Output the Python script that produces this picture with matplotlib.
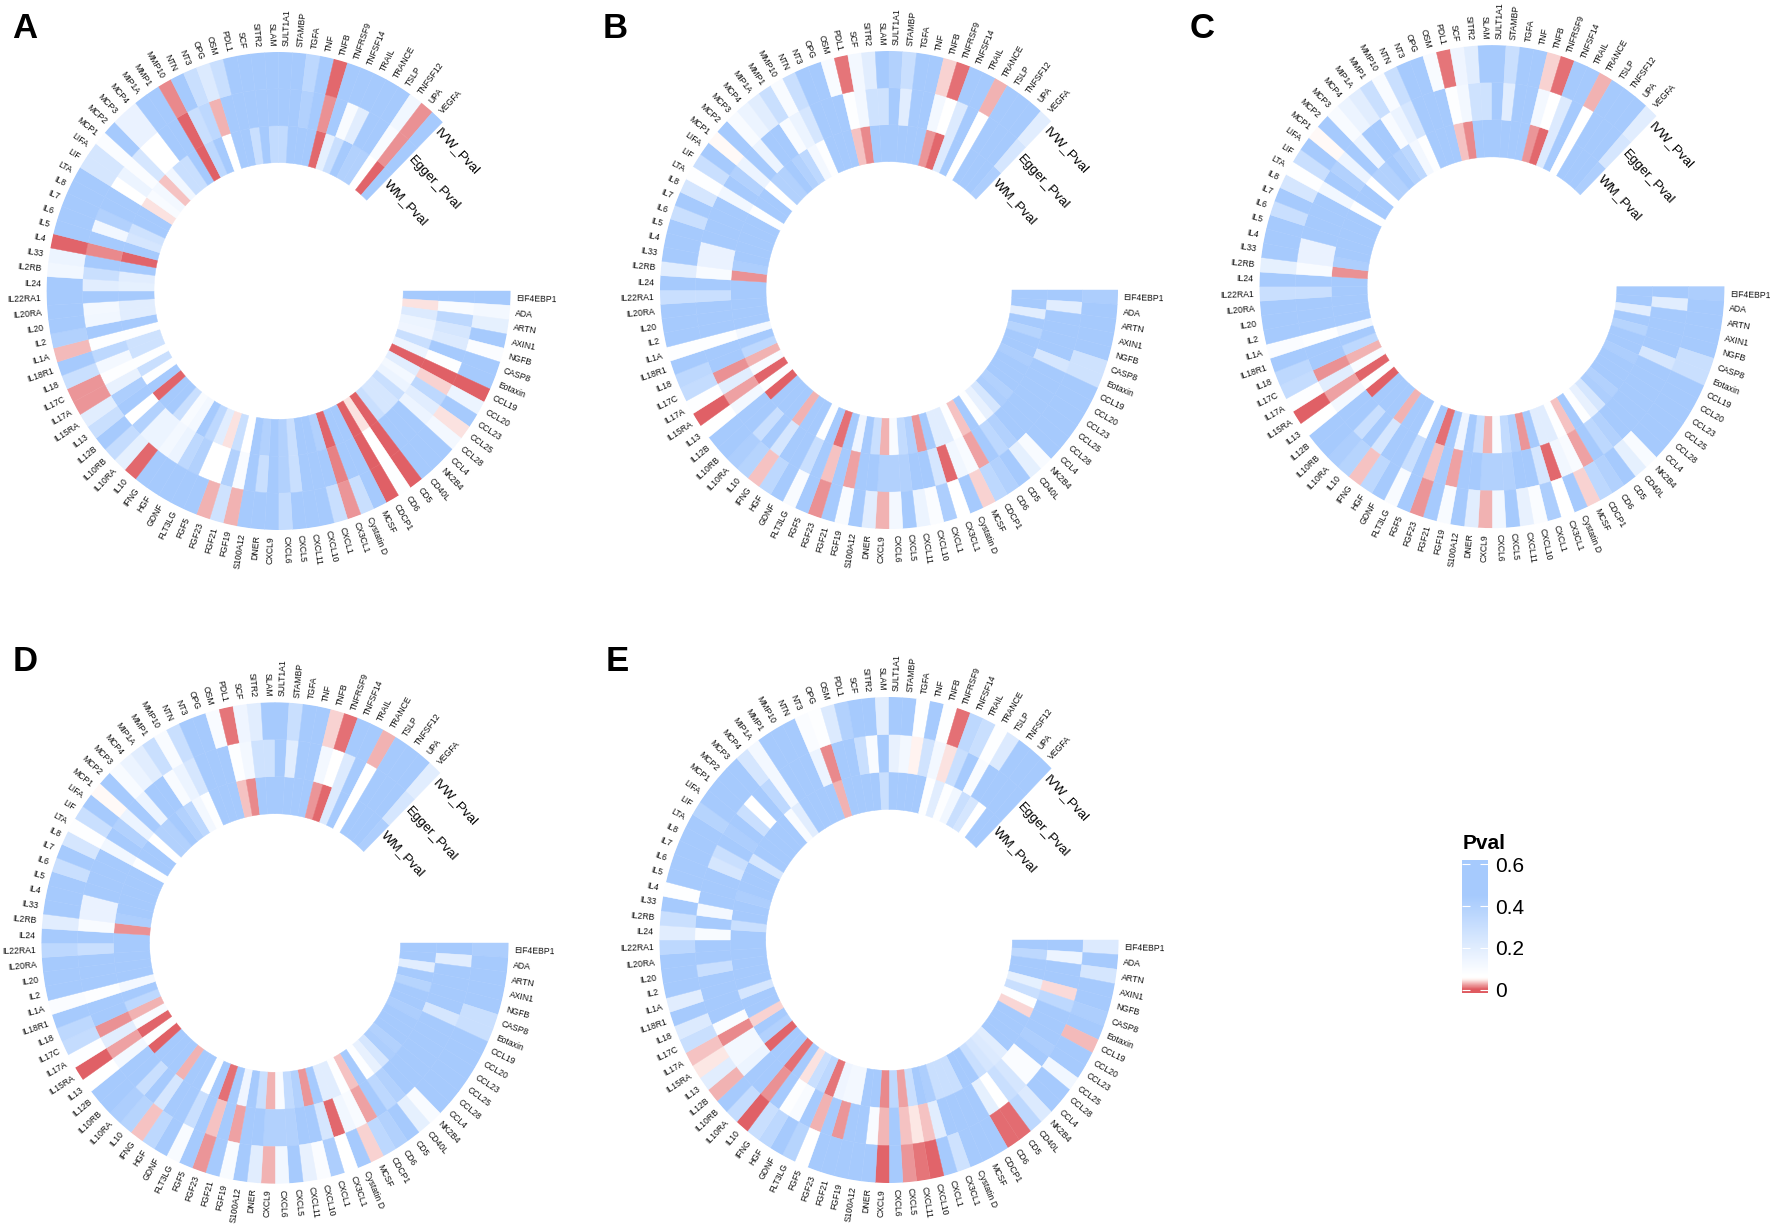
import numpy as np
import matplotlib
matplotlib.use('Agg')
import matplotlib.pyplot as plt
from matplotlib.colors import LinearSegmentedColormap, Normalize
from matplotlib.cm import ScalarMappable

plt.rcParams['font.family'] = ['Liberation Sans', 'DejaVu Sans']

proteins = ['EIF4EBP1', 'ADA', 'ARTN', 'AXIN1', 'NGFB', 'CASP8', 'Eotaxin', 'CCL19', 'CCL20', 'CCL23',
            'CCL25', 'CCL28', 'CCL4', 'NK2B4', 'CD40L', 'CD5', 'CD6', 'CDCP1', 'MCSF', 'Cystatin D',
            'CX3CL1', 'CXCL1', 'CXCL10', 'CXCL11', 'CXCL5', 'CXCL6', 'CXCL9', 'DNER', 'S100A12', 'FGF19',
            'FGF21', 'FGF23', 'FGF5', 'FLT3LG', 'GDNF', 'HGF', 'IFNG', 'IL10', 'IL10RA', 'IL10RB',
            'IL12B', 'IL13', 'IL15RA', 'IL17A', 'IL17C', 'IL18', 'IL18R1', 'IL1A', 'IL2', 'IL20',
            'IL20RA', 'IL22RA1', 'IL24', 'IL2RB', 'IL33', 'IL4', 'IL5', 'IL6', 'IL7', 'IL8',
            'LTA', 'LIF', 'LIFA', 'MCP1', 'MCP2', 'MCP3', 'MCP4', 'MIP1A', 'MMP1', 'MMP10',
            'NTN', 'NT3', 'OPG', 'OSM', 'PDL1', 'SCF', 'SITR2', 'SLAM', 'SULT1A1', 'STAMBP',
            'TGFA', 'TNF', 'TNFB', 'TNFRSF9', 'TNFSF14', 'TRAIL', 'TRANCE', 'TSLP', 'TNFSF12', 'UPA', 'VEGFA']
methods = ['IVW_Pval', 'Egger_Pval', 'WM_Pval']

a_ivw = [.55,.12,.18,.45,.09,.55,.55,.005,.15,.5,
         .045,.12,.55,.55,.55,.005,.08,.005,.55,.3,
         .022,.3,.55,.55,.55,.32,.55,.55,.55,.03,
         .28,.03,.55,.55,.55,.55,.55,.008,.18,.32,
         .45,.3,.2,.022,.022,.3,.5,.033,.4,.55,
         .55,.5,.55,.13,.15,.007,.55,.55,.55,.45,
         .5,.25,.25,.09,.55,.16,.16,.5,.5,.018,
         .5,.3,.22,.3,.55,.55,.55,.55,.55,.55,
         .35,.55,.008,.5,.5,.55,.55,.55,.13,.02,.55]
a_egger = [.55,.1,.35,.25,.22,.55,.08,.005,.04,.35,
           .2,.15,.55,.55,.55,.005,.07,.005,.55,.55,
           .015,.55,.55,.55,.3,.4,.55,.3,.55,.1,
           .4,.07,.07,.4,.35,.15,.12,.15,.15,.4,
           .07,.45,.42,.17,.08,.12,.35,.08,.55,.13,
           .12,.55,.2,.3,.5,.018,.55,.13,.4,.5,
           .45,.07,.15,.09,.25,.07,.07,.45,.45,.007,
           .3,.35,.03,.55,.55,.55,.55,.5,.5,.45,
           .4,.55,.02,.55,.1,.2,.55,.55,.1,.02,.55]
a_wm = [.55,.045,.22,.15,.14,.3,.15,.005,.2,.12,
        .15,.3,.25,.25,.3,.005,.045,.005,.55,.55,
        .007,.4,.55,.55,.3,.4,.55,.4,.55,.07,
        .3,.045,.2,.35,.45,.12,.1,.3,.5,.5,
        .007,.55,.08,.3,.08,.28,.28,.08,.55,.2,
        .2,.55,.18,.2,.5,.007,.55,.25,.28,.5,
        .55,.045,.1,.12,.035,.13,.3,.3,.45,.005,
        .35,.55,.07,.55,.55,.3,.55,.33,.33,.55,
        .55,.55,.008,.18,.3,.5,.4,.4,.07,.007,.55]

b_ivw = [.42,.48,.55,.55,.55,.28,.28,.55,.55,.55,
         .55,.55,.5,.1,.18,.45,.4,.35,.04,.55,
         .07,.42,.09,.15,.45,.12,.03,.2,.55,.1,
         .55,.02,.45,.1,.45,.35,.035,.38,.42,.5,
         .55,.07,.005,.08,.32,.35,.5,.08,.55,.45,
         .55,.3,.55,.2,.55,.55,.55,.3,.55,.25,
         .08,.3,.55,.055,.55,.1,.15,.2,.3,.1,
         .3,.55,.55,.1,.012,.12,.2,.5,.4,.3,
         .55,.55,.04,.01,.5,.45,.03,.55,.55,.55,.2]
b_egger = [.55,.2,.55,.55,.55,.5,.25,.55,.55,.5,
           .5,.5,.5,.5,.4,.35,.5,.025,.1,.13,
           .008,.25,.5,.55,.4,.4,.4,.55,.55,.025,
           .55,.035,.55,.3,.55,.5,.25,.5,.3,.5,
           .45,.12,.025,.2,.02,.5,.5,.08,.55,.55,
           .55,.3,.55,.1,.16,.16,.55,.55,.55,.55,
           .13,.45,.4,.15,.55,.15,.55,.55,.1,.15,
           .25,.55,.55,.55,.08,.12,.28,.28,.5,.2,
           .55,.55,.12,.07,.22,.55,.07,.55,.55,.55,.25]
b_wm = [.47,.55,.2,.5,.38,.5,.45,.42,.45,.5,
        .45,.4,.42,.25,.17,.08,.55,.035,.08,.2,
        .2,.55,.022,.4,.33,.1,.03,.3,.55,.14,
        .55,.01,.55,.08,.5,.5,.03,.45,.45,.5,
        .005,.08,.007,.1,.03,.35,.45,.12,.5,.55,
        .55,.55,.55,.02,.42,.5,.55,.55,.55,.55,
        .08,.55,.55,.07,.4,.4,.55,.4,.35,.12,
        .08,.55,.5,.45,.035,.018,.5,.5,.5,.5,
        .55,.55,.022,.008,.22,.45,.07,.55,.55,.45,.42]

c_ivw = [.42,.5,.55,.55,.55,.3,.3,.55,.55,.55,
         .55,.55,.5,.1,.18,.45,.4,.35,.04,.55,
         .07,.42,.09,.17,.45,.13,.03,.2,.55,.1,
         .55,.022,.45,.1,.45,.35,.035,.38,.42,.5,
         .55,.07,.005,.08,.32,.35,.5,.09,.55,.45,
         .55,.3,.55,.18,.55,.55,.55,.3,.55,.25,
         .08,.3,.55,.055,.55,.1,.15,.2,.3,.1,
         .3,.55,.55,.1,.012,.14,.2,.5,.45,.3,
         .55,.55,.04,.01,.5,.45,.03,.55,.55,.55,.2]
c_egger = [.55,.2,.55,.55,.55,.5,.25,.55,.55,.5,
           .5,.5,.5,.5,.4,.35,.5,.025,.1,.13,
           .008,.25,.5,.55,.4,.4,.4,.55,.55,.025,
           .55,.035,.55,.3,.55,.5,.25,.5,.3,.5,
           .45,.12,.025,.2,.02,.5,.5,.08,.55,.55,
           .55,.3,.55,.1,.16,.16,.55,.55,.55,.55,
           .13,.45,.4,.15,.55,.15,.55,.55,.1,.15,
           .25,.55,.55,.55,.08,.12,.28,.28,.5,.2,
           .55,.55,.12,.07,.22,.55,.07,.55,.55,.55,.25]
c_wm = [.47,.55,.2,.5,.38,.5,.45,.42,.45,.5,
        .45,.4,.42,.25,.17,.08,.55,.035,.08,.2,
        .2,.55,.022,.4,.33,.1,.03,.3,.55,.14,
        .55,.01,.55,.08,.5,.5,.03,.45,.45,.5,
        .005,.08,.007,.1,.03,.35,.45,.12,.5,.55,
        .55,.55,.55,.02,.42,.5,.55,.55,.55,.55,
        .08,.55,.55,.07,.4,.4,.55,.4,.35,.12,
        .08,.55,.5,.45,.035,.018,.5,.5,.5,.5,
        .55,.55,.022,.008,.22,.45,.07,.55,.55,.45,.42]

d_ivw = [.42,.5,.55,.55,.55,.3,.3,.55,.55,.55,
         .55,.55,.5,.1,.18,.45,.4,.35,.04,.55,
         .07,.42,.09,.17,.45,.13,.03,.2,.55,.1,
         .55,.022,.45,.1,.45,.35,.035,.38,.42,.5,
         .55,.07,.005,.08,.32,.35,.5,.09,.55,.45,
         .55,.35,.55,.2,.55,.55,.55,.3,.55,.25,
         .08,.3,.55,.055,.55,.1,.15,.2,.3,.1,
         .3,.55,.55,.1,.012,.14,.2,.5,.45,.3,
         .55,.55,.04,.01,.5,.45,.03,.55,.55,.55,.2]
d_egger = [.55,.2,.55,.55,.55,.5,.25,.55,.55,.5,
           .5,.5,.5,.5,.4,.35,.5,.025,.1,.13,
           .008,.25,.5,.55,.4,.4,.4,.55,.55,.025,
           .55,.035,.55,.3,.55,.5,.25,.5,.3,.5,
           .45,.12,.025,.2,.02,.5,.5,.08,.55,.55,
           .55,.3,.55,.1,.16,.16,.55,.55,.55,.55,
           .13,.45,.4,.15,.55,.15,.55,.55,.1,.15,
           .25,.55,.55,.55,.08,.12,.28,.28,.5,.2,
           .55,.55,.12,.07,.22,.55,.07,.55,.55,.55,.25]
d_wm = [.47,.55,.2,.5,.38,.5,.45,.42,.45,.5,
        .45,.4,.42,.25,.17,.08,.55,.035,.08,.2,
        .2,.55,.022,.4,.33,.1,.03,.3,.55,.14,
        .55,.01,.55,.08,.5,.5,.03,.45,.45,.5,
        .005,.08,.007,.1,.03,.35,.45,.12,.5,.55,
        .55,.55,.55,.02,.42,.5,.55,.55,.55,.55,
        .08,.55,.55,.07,.4,.4,.55,.4,.35,.12,
        .08,.55,.5,.45,.035,.018,.5,.5,.5,.5,
        .55,.55,.022,.008,.22,.45,.07,.55,.55,.45,.42]

e_ivw = [.22,.55,.25,.55,.55,.42,.45,.033,.55,.55,
         .13,.55,.55,.22,.35,.009,.009,.55,.55,.55,
         .28,.55,.007,.012,.022,.55,.007,.55,.55,.55,
         .55,.55,.07,.38,.45,.35,.3,.006,.32,.55,
         .03,.2,.047,.035,.3,.22,.55,.2,.55,.5,
         .55,.35,.2,.3,.45,.08,.45,.55,.55,.55,
         .55,.38,.55,.55,.55,.55,.25,.12,.55,.55,
         .55,.09,.08,.22,.4,.5,.55,.2,.5,.45,
         .08,.5,.08,.01,.35,.3,.08,.22,.55,.55,.55]
e_egger = [.5,.15,.55,.55,.043,.35,.5,.55,.55,.42,
           .55,.09,.09,.25,.3,.07,.18,.55,.55,.55,
           .55,.2,.035,.047,.035,.5,.032,.1,.45,.55,
           .022,.5,.03,.55,.1,.08,.5,.02,.55,.55,
           .15,.12,.12,.018,.09,.55,.55,.55,.55,.3,
           .55,.55,.1,.45,.12,.5,.55,.55,.25,.3,
           .55,.42,.55,.3,.065,.5,.35,.12,.55,.55,
           .55,.15,.018,.55,.55,.3,.1,.55,.17,.12,
           .05,.27,.12,.045,.3,.5,.1,.55,.55,.5,.5]
e_wm = [.5,.35,.55,.5,.18,.3,.08,.042,.55,.55,
        .55,.5,.2,.22,.25,.3,.55,.55,.3,.3,
        .3,.42,.45,.3,.025,.35,.018,.55,.55,.12,
        .12,.14,.012,.35,.3,.045,.5,.01,.5,.5,
        .007,.4,.5,.04,.45,.5,.25,.55,.55,.55,
        .55,.55,.55,.3,.45,.45,.42,.55,.55,.5,
        .25,.55,.55,.55,.45,.5,.1,.2,.55,.55,
        .55,.55,.03,.55,.55,.55,.55,.3,.55,.55,
        .55,.55,.08,.2,.08,.13,.3,.25,.07,.5,.5]

W, H = 1772, 1226
# centre x, centre y, radius x, radius y in pixels - the rings are not quite round in the source
panels = [('A', 278.6, 291, 232, 239, a_ivw, a_egger, a_wm, 12, 38),
          ('B', 889, 290, 229, 239, b_ivw, b_egger, b_wm, 603, 38),
          ('C', 1492, 286.6, 232.5, 241.5, c_ivw, c_egger, c_wm, 1190, 38),
          ('D', 275, 943, 233.6, 240.7, d_ivw, d_egger, d_wm, 13, 671),
          ('E', 889, 940, 229.6, 243, e_ivw, e_egger, e_wm, 606, 671)]

vmin, vmax = -0.015, 0.62
stops = [(-0.015, '#DF5A60'), (0.003, '#DF5A60'), (0.05, '#FFF4F1'), (0.06, '#FFFFFF'), (0.07, '#FFFFFF'),
         (0.45, '#A6CAFD'), (0.62, '#A6CAFD')]
cmap = LinearSegmentedColormap.from_list('pval', [((v - vmin) / (vmax - vmin), c) for v, c in stops], N=512)
norm = Normalize(vmin, vmax)

fig = plt.figure(figsize=(W / 100, H / 100), dpi=100)
step = np.deg2rad(315 / len(proteins))
theta = (np.arange(len(proteins)) + 0.5) * step
r_in = 0.537
ring = (1 - r_in) / 3

for name, cx, cy, rx, ry, ivw, egger, wm, lx, ly in panels:
    ax = fig.add_axes([(cx - rx) / W, 1 - (cy + ry) / H, 2 * rx / W, 2 * ry / H], projection='polar')
    ax.set_aspect('auto')
    ax.set_theta_direction(-1)
    ax.set_ylim(0, 1)
    ax.axis('off')
    for k, vals in enumerate([wm, egger, ivw]):
        cols = cmap(norm(vals))
        ax.bar(theta, ring, width=step, bottom=r_in + k * ring, color=cols, edgecolor=cols, linewidth=0.3)
    for t, lab in zip(theta, proteins):
        deg = np.rad2deg(t)
        if np.cos(t) >= 0:
            ax.text(t, 1.025, lab, rotation=-deg, rotation_mode='anchor', ha='left', va='center', fontsize=6.2, color='#111111')
        else:
            ax.text(t, 1.025, lab, rotation=180 - deg, rotation_mode='anchor', ha='right', va='center', fontsize=6.2, color='#111111')
    # ring names sit just after the gap
    for m, r in zip(methods, [0.96, 0.795, 0.65]):
        ax.text(np.deg2rad(315.5), r, m, rotation=-47, rotation_mode='anchor', ha='left', va='center', fontsize=9.6)
    fig.text(lx / W, 1 - ly / H, name, fontsize=25, fontweight='bold', ha='left', va='baseline')

cax = fig.add_axes([1462 / W, 1 - 993 / H, 26 / W, 133 / H])
cb = fig.colorbar(ScalarMappable(norm, cmap), cax=cax, ticks=[0, 0.2, 0.4, 0.6])
cb.ax.set_yticklabels(['0', '0.2', '0.4', '0.6'], fontsize=15)
cb.ax.tick_params(direction='in', left=True, right=True, color='white', length=6, width=0.8, pad=5)
cb.outline.set_visible(False)
fig.text(1463 / W, 1 - 849 / H, 'Pval', fontsize=15, fontweight='bold', ha='left', va='baseline')

fig.savefig('out.png', dpi=100, facecolor='white')
